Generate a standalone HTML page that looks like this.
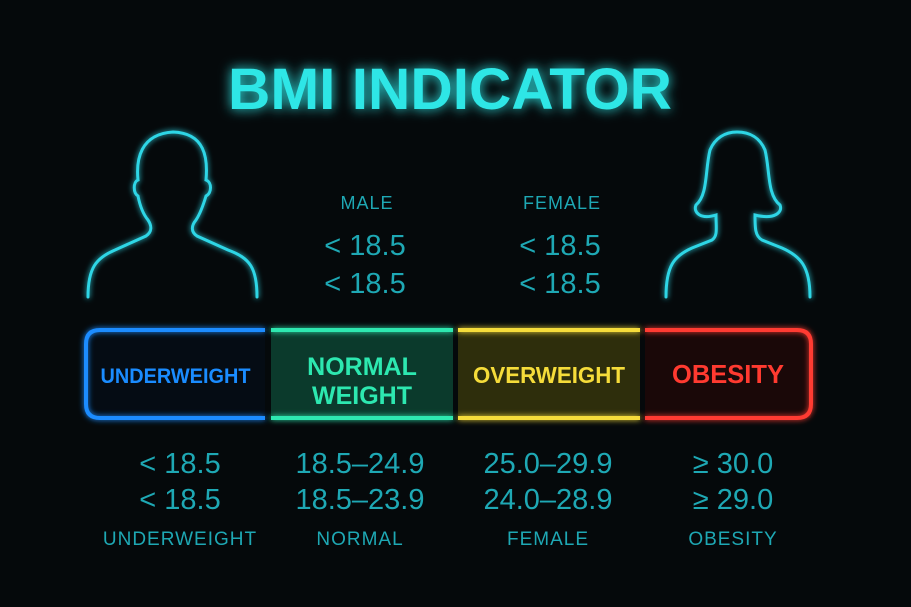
<!DOCTYPE html>
<html><head><meta charset="utf-8"><style>
html,body{margin:0;padding:0;background:#05090b;}
svg{display:block}
text{font-family:"Liberation Sans","DejaVu Sans",sans-serif;}
</style></head><body>
<svg width="911" height="607" viewBox="0 0 911 607">
<defs>
<filter id="glow" x="-20%" y="-20%" width="140%" height="140%"><feGaussianBlur stdDeviation="3" result="b"/><feMerge><feMergeNode in="b"/><feMergeNode in="SourceGraphic"/></feMerge></filter>
<filter id="glow2" x="-20%" y="-50%" width="140%" height="200%"><feGaussianBlur stdDeviation="6" result="b"/><feMerge><feMergeNode in="b"/><feMergeNode in="SourceGraphic"/></feMerge></filter>
</defs>
<rect width="911" height="607" fill="#05090b"/>
<text x="450" y="109" text-anchor="middle" font-size="58" font-weight="bold" fill="#2fe6e6" filter="url(#glow2)" textLength="444" lengthAdjust="spacingAndGlyphs">BMI INDICATOR</text>

<path filter="url(#glow)" fill="none" stroke="#2fd6e6" stroke-width="3" stroke-linecap="round"
d="M88,297 C88,268 96,258 115,250 L146,236 C152,232 152,226 148,220 C143,214 140,206 138,196 C133,193 133,182 138,180 C136,160 140,134 173,132 C205,133 208,158 206,180 C212,182 212,193 206,196 C203,206 200,214 196,220 C191,226 191,232 197,236 L228,250 C250,258 257,268 257,297"/>
<path filter="url(#glow)" fill="none" stroke="#2fd6e6" stroke-width="3" stroke-linecap="round"
d="M666,297 C666,266 674,256 692,248 L712,240 C718,236 716,228 716,215 C700,220 693,212 696,205 C708,195 705,170 710,150 C715,138 725,132 737,132 C750,132 760,138 765,150 C770,170 767,195 780,205 C783,212 775,220 755,215 C755,228 755,236 762,240 L782,248 C800,256 810,266 810,297"/>

<g id="topg"></g>
<g id="bar"></g>
<g id="bottom"></g>
</svg>
<script>
const categories=["UNDERWEIGHT","NORMAL WEIGHT","OVERWEIGHT","OBESITY"];
const maleRanges=["< 18.5","18.5–24.9","25.0–29.9","≥ 30.0"];
const femaleRanges=["< 18.5","18.5–23.9","24.0–28.9","≥ 29.0"];
const bottomLabels=["UNDERWEIGHT","NORMAL","FEMALE","OBESITY"];
const topHeaders=["MALE","FEMALE"];
const topValues=[["< 18.5","< 18.5"],["< 18.5","< 18.5"]];
const colors=["#1a8cff","#2de8b0","#f5dc3a","#ff3a30"];
const fills=["#050c14","#0b3a2c","#2e2e0c","#1a0808"];
const NS="http://www.w3.org/2000/svg";
function mk(tag,attrs,parent){const e=document.createElementNS(NS,tag);for(const k in attrs){if(attrs[k]!==undefined)e.setAttribute(k,attrs[k]);}parent.appendChild(e);return e;}
const segX=[86,271,458,645],segW=[179,182,182,166];
const barG=document.getElementById('bar');
categories.forEach((c,i)=>{
  const g=mk('g',{},barG);
  
  
  const x=segX[i],w=segW[i],y=330,h=88;
  mk('rect',{x:x,y:y,width:w,height:h,fill:fills[i]},g);
  let d;
  if(i===0)d=`M${x+w},${y} L${x+14},${y} Q${x},${y} ${x},${y+14} L${x},${y+h-14} Q${x},${y+h} ${x+14},${y+h} L${x+w},${y+h}`;
  else if(i===3)d=`M${x},${y} L${x+w-14},${y} Q${x+w},${y} ${x+w},${y+14} L${x+w},${y+h-14} Q${x+w},${y+h} ${x+w-14},${y+h} L${x},${y+h}`;
  else d=`M${x},${y} L${x+w},${y} M${x},${y+h} L${x+w},${y+h}`;
  mk('path',{d:d,fill:'none',stroke:colors[i],'stroke-width':4,filter:'url(#glow)'},g);
  const cx=x+w/2;
  const words=c.split(' ');
  if(i===1){
    mk('text',{x:cx,y:375,'text-anchor':'middle','font-size':25,'font-weight':'bold',fill:colors[i]},g).textContent=words[0];
    mk('text',{x:cx,y:404,'text-anchor':'middle','font-size':25,'font-weight':'bold',fill:colors[i]},g).textContent=words[1];
  }else{
    const tl=i===0?150:i===2?152:112;
    mk('text',{x:cx,y:383,'text-anchor':'middle','font-size':i===0?21:i===3?26:23,'font-weight':'bold',fill:colors[i],textLength:tl,lengthAdjust:'spacingAndGlyphs'},g).textContent=c;
  }
});
const topG=document.getElementById('topg');
const topX=[367,562];
topHeaders.forEach((h,i)=>{
  const t=mk('text',{x:topX[i],y:209,'text-anchor':'middle','font-size':18,fill:'#1ea8b4','letter-spacing':1},topG);
  t.textContent=h;
  
  
  topValues[i].forEach((v,j)=>{
    const tv=mk('text',{x:topX[i]-2,y:255+j*38,'text-anchor':'middle','font-size':29,fill:'#1ea8b4'},topG);
    tv.textContent=v;
    
    
  });
});
const bottomG=document.getElementById('bottom');
const colX=[180,360,548,733];
categories.forEach((c,i)=>{
  const a=mk('text',{x:colX[i],y:473,'text-anchor':'middle','font-size':29,fill:'#1ea8b4'},bottomG);
  a.textContent=maleRanges[i];
  
  
  const b=mk('text',{x:colX[i],y:509,'text-anchor':'middle','font-size':29,fill:'#1ea8b4'},bottomG);
  b.textContent=femaleRanges[i];
  
  
  const l=mk('text',{x:colX[i],y:545,'text-anchor':'middle','font-size':19,fill:'#1ea8b4','letter-spacing':1},bottomG);
  l.textContent=bottomLabels[i];
  
  
});
</script>
</body></html>
